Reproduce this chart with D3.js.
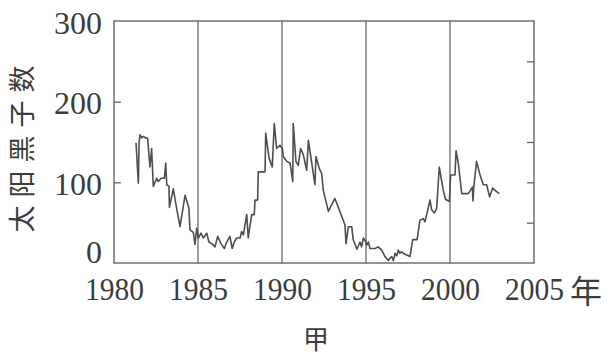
<!DOCTYPE html>
<html>
<head>
<meta charset="utf-8">
<script src="https://cdn.jsdelivr.net/npm/d3@7"></script>
<style>
  html, body { margin: 0; padding: 0; background: #fff; }
  svg { display: block; }
  .num { font-family: "Liberation Serif", "DejaVu Serif", serif; font-size: 32px; fill: #3c3c3c; }
  .cjk { font-family: "Noto Sans CJK SC", sans-serif; fill: #3c3c3c; }
</style>
</head>
<body>
<svg id="chart" width="614" height="357"></svg>
<script>
// ── Data ─────────────────────────────────────────────────────────────────────
const years = [
  1981.31, 1981.45, 1981.49, 1981.55, 1981.65, 1981.75, 1981.89, 1982.0,
  1982.14, 1982.24, 1982.34, 1982.54, 1982.64, 1982.8, 1983.0, 1983.08,
  1983.14, 1983.27, 1983.30, 1983.53, 1983.69, 1983.93, 1984.23, 1984.46,
  1984.52, 1984.72, 1984.82, 1984.92, 1985.02, 1985.18, 1985.32, 1985.52,
  1985.65, 1985.82, 1986.01, 1986.17, 1986.37, 1986.57, 1986.71, 1986.90,
  1987.04, 1987.16, 1987.30, 1987.50, 1987.60, 1987.70, 1987.90, 1987.99,
  1988.10, 1988.20, 1988.35, 1988.39, 1988.55, 1988.59, 1988.99, 1989.03,
  1989.23, 1989.42, 1989.54, 1989.68, 1989.88, 1990.02, 1990.08, 1990.28,
  1990.48, 1990.64, 1990.67, 1990.83, 1990.97, 1991.11, 1991.27, 1991.47,
  1991.57, 1991.77, 1991.96, 1992.02, 1992.22, 1992.36, 1992.46, 1992.76,
  1993.15, 1993.75, 1993.81, 1993.95, 1994.15, 1994.24, 1994.46, 1994.64,
  1994.74, 1994.84, 1995.0, 1995.04, 1995.14, 1995.24, 1995.54, 1995.73,
  1995.93, 1996.13, 1996.33, 1996.43, 1996.53, 1996.63, 1996.73, 1996.83,
  1996.92, 1997.02, 1997.12, 1997.22, 1997.42, 1997.62, 1997.78, 1998.04,
  1998.21, 1998.41, 1998.51, 1998.81, 1998.91, 1999.07, 1999.21, 1999.36,
  1999.60, 1999.73, 1999.96, 2000.04, 2000.30, 2000.36, 2000.49, 2000.70,
  2001.09, 2001.33, 2001.37, 2001.41, 2001.58, 2001.79, 2001.98, 2002.18,
  2002.36, 2002.54, 2002.68, 2002.93
];
const counts = [
  149, 99, 149, 159, 155, 157, 155, 155,
  119, 142, 95, 105, 101, 105, 105, 124,
  97, 95, 69, 92, 72, 45, 84, 68,
  41, 38, 23, 43, 31, 37, 31, 37,
  26, 24, 20, 33, 24, 18, 26, 33,
  18, 26, 31, 31, 39, 35, 60, 31,
  47, 60, 60, 78, 78, 113, 113, 161,
  130, 119, 173, 142, 146, 142, 132, 126,
  124, 101, 173, 126, 121, 142, 134, 115,
  152, 124, 97, 132, 117, 111, 90, 64,
  80, 47, 24, 45, 45, 29, 17, 26,
  20, 31, 26, 22, 26, 18, 18, 20,
  16, 8, 3, 6, 8, 3, 12, 9,
  16, 12, 14, 12, 10, 8, 29, 29,
  53, 55, 51, 78, 66, 62, 68, 119,
  90, 79, 76, 109, 109, 139, 124, 86,
  86, 94, 77, 93, 126, 109, 97, 97,
  82, 93, 90, 86
];
const xTicks      = [1980, 1985, 1990, 1995, 2000, 2005];
const xDividers   = [1985, 1990, 1995, 2000];
const yTicks      = [0, 100, 200, 300];
const yTicksMinor = [50, 100, 150, 200, 250];
const yTitle  = "太阳黑子数";
const xUnit   = "年";
const caption = "甲";

// ── Chart ────────────────────────────────────────────────────────────────────
const svg    = d3.select("#chart");
const margin = { top: 21, left: 114 };
const w = 420, h = 242;
const ink = "#5a5a5a";

const g = svg.append("g").attr("transform", `translate(${margin.left},${margin.top})`);
const x = d3.scaleLinear().domain([1980, 2005]).range([0, w]);
const y = d3.scaleLinear().domain([0, 300]).range([h, 0]);

// left axis: inward ticks, labels outside
const yAx = g.append("g")
  .call(d3.axisLeft(y).tickValues(yTicks).tickSizeInner(-7).tickSizeOuter(0).tickPadding(12));
yAx.select(".domain").remove();
yAx.selectAll("line").attr("stroke", ink).attr("stroke-width", 1.2);
yAx.selectAll("text").attr("class", "num")
  .attr("dy", d => d === 0 ? "-0.02em" : "0.38em");
yAx.selectAll(".tick").filter(d => d === 0 || d === 300).select("line").remove();
yAx.attr("font-size", null).attr("font-family", null);

// right axis: inward minor ticks only
const yAxR = g.append("g").attr("transform", `translate(${w},0)`)
  .call(d3.axisRight(y).tickValues(yTicksMinor).tickSizeInner(-7).tickSizeOuter(0).tickFormat(""));
yAxR.select(".domain").remove();
yAxR.selectAll("line").attr("stroke", ink).attr("stroke-width", 1.2);

// bottom axis labels
const xAx = g.append("g").attr("transform", `translate(0,${h})`)
  .call(d3.axisBottom(x).tickValues(xTicks).tickSize(0).tickPadding(14).tickFormat(d3.format("d")));
xAx.select(".domain").remove();
xAx.attr("font-size", null).attr("font-family", null);
xAx.selectAll("text").attr("class", "num")
  .attr("textLength", 59).attr("lengthAdjust", "spacingAndGlyphs");

// vertical dividers
g.selectAll(".divider").data(xDividers).join("line")
  .attr("class", "divider")
  .attr("x1", d => x(d)).attr("x2", d => x(d))
  .attr("y1", 0).attr("y2", h)
  .attr("stroke", ink).attr("stroke-width", 1.2);

// frame
g.append("rect")
  .attr("x", 0).attr("y", 0).attr("width", w).attr("height", h)
  .attr("fill", "none").attr("stroke", ink).attr("stroke-width", 1.3);

// sunspot series
const pts = years.map((yr, i) => ({ year: yr, count: counts[i] }));
g.append("path").datum(pts)
  .attr("fill", "none")
  .attr("stroke", "#4e4e4e")
  .attr("stroke-width", 1.6)
  .attr("stroke-linejoin", "round")
  .attr("d", d3.line().x(v => x(v.year)).y(v => y(v.count)));

// titles
svg.append("text").attr("class", "cjk")
  .attr("transform", "translate(20,145) rotate(-90)")
  .attr("text-anchor", "middle")
  .attr("dominant-baseline", "central")
  .attr("font-size", 27)
  .attr("letter-spacing", 8)
  .text(yTitle);

svg.append("text").attr("class", "cjk")
  .attr("x", 586).attr("y", 288.5)
  .attr("text-anchor", "middle")
  .attr("dominant-baseline", "central")
  .attr("font-size", 32)
  .text(xUnit);

svg.append("text").attr("class", "cjk")
  .attr("x", 316).attr("y", 337)
  .attr("text-anchor", "middle")
  .attr("dominant-baseline", "central")
  .attr("font-size", 26)
  .text(caption);
</script>
</body>
</html>
